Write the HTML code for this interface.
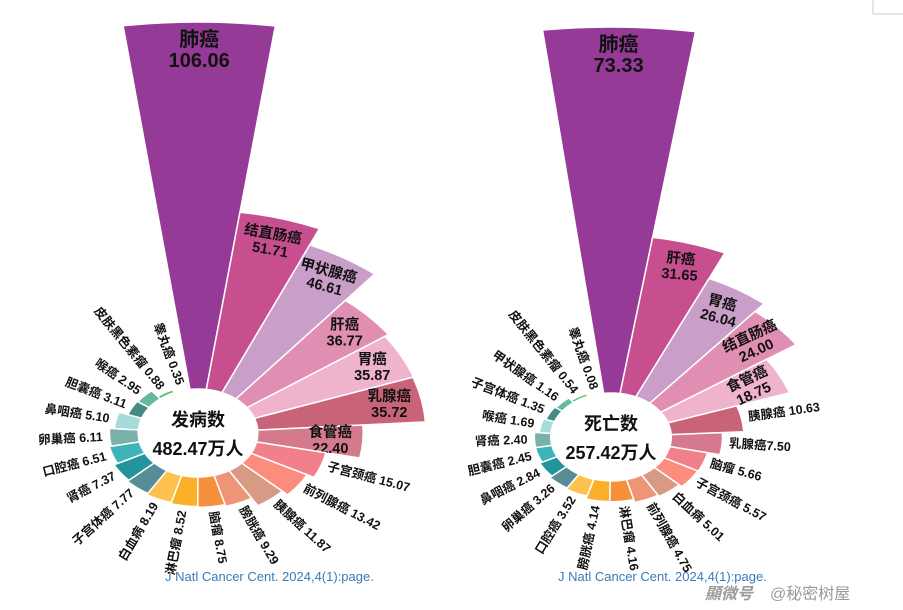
<!DOCTYPE html>
<html><head><meta charset="utf-8"><style>
body{margin:0;background:#fff;width:903px;height:610px;overflow:hidden;font-family:"Liberation Sans","Noto Sans CJK SC",sans-serif}
svg{position:absolute;left:0;top:0}
</style></head><body>
<svg id="chart" width="903" height="610">
<line x1="873" y1="0" x2="873" y2="14" stroke="#ccc"/>
<line x1="873" y1="14" x2="903" y2="14" stroke="#ccc"/>
<text x="165" y="581" font-size="13" fill="#3a7ab8">J Natl Cancer Cent. 2024,4(1):page.</text>
<text x="558" y="581" font-size="13" fill="#3a7ab8">J Natl Cancer Cent. 2024,4(1):page.</text>
<text x="705" y="599" font-size="16" fill="#9a9a9a" font-weight="bold" font-style="italic">顯微号</text>
<text x="770" y="599" font-size="16" fill="#9a9a9a">@秘密树屋</text>
</svg>
<script>
const incNames=["肺癌","结直肠癌","甲状腺癌","肝癌","胃癌","乳腺癌","食管癌","子宫颈癌","前列腺癌","胰腺癌","膀胱癌","脑瘤","淋巴瘤","白血病","子宫体癌","肾癌","口腔癌","卵巢癌","鼻咽癌","胆囊癌","喉癌","皮肤黑色素瘤","睾丸癌"];
const incValues=[106.06,51.71,46.61,36.77,35.87,35.72,22.40,15.07,13.42,11.87,9.29,8.75,8.52,8.19,7.77,7.37,6.51,6.11,5.10,3.11,2.95,0.88,0.35];
const deathNames=["肺癌","肝癌","胃癌","结直肠癌","食管癌","胰腺癌","乳腺癌","脑瘤","子宫颈癌","白血病","前列腺癌","淋巴瘤","膀胱癌","口腔癌","卵巢癌","鼻咽癌","胆囊癌","肾癌","喉癌","子宫体癌","甲状腺癌","皮肤黑色素瘤","睾丸癌"];
const deathValues=[73.33,31.65,26.04,24.00,18.75,10.63,7.50,5.66,5.57,5.01,4.75,4.16,4.14,3.52,3.26,2.84,2.45,2.40,1.69,1.35,1.16,0.54,0.08];
const palette=["#953a97","#c84f8f","#c99ec8","#e08fb2","#f0b3cd","#c96478","#d47a8c","#f2808a","#fb8c7e","#d99a84","#ef9577","#f5913a","#fbaf2b","#fdc24e","#578d96","#24949c","#3cb4b8","#79b1ab","#a6dbdc","#478a85","#66b99a","#4cc36a","#a8e0b0"];
const NS="http://www.w3.org/2000/svg";
const svg=document.getElementById('chart');
function mk(tag,attrs,parent){const e=document.createElementNS(NS,tag);for(const k in attrs)e.setAttribute(k,attrs[k]);(parent||svg).appendChild(e);return e;}
function rose(cfg){
  const {names,values,cx,cy,r0,rMax,start,inside,rots,title,total,prefix,sx,sep}=cfg;
  const pt=(r,a)=>{const t=a*Math.PI/180;return [cx+sx*r*Math.sin(t),cy-r*Math.cos(t)];};
  const maxV=Math.max(...values);
  const rScale=v=>r0+(rMax-r0)*v/maxV;
  const step=360/values.length;
  const g=mk('g',{});
  
  
  values.forEach((v,i)=>{
    const a0=start+i*step,a1=a0+step,r=rScale(v);
    const p1=pt(r0,a0),p2=pt(r,a0),p3=pt(r,a1),p4=pt(r0,a1);
    const p=mk('path',{d:`M${p1}L${p2}A${r*sx},${r} 0 0 1 ${p3}L${p4}A${r0*sx},${r0} 0 0 0 ${p1}Z`,fill:palette[i],stroke:'#fff','stroke-width':1.5},g);
    
    
    const mid=a0+step/2;
    if(i<inside){
      const big=i===0;
      const c=pt(big?r-28:r-24,mid);
      const t=mk('text',{transform:`translate(${c[0]},${c[1]}) rotate(${rots[i]})`,'text-anchor':'middle','font-weight':'bold','font-size':big?20:14.5,fill:'#111'},g);
      
      
      const s1=mk('tspan',{x:0,y:big?-4:-3},t);s1.textContent=names[i];
      const s2=mk('tspan',{x:0,y:big?17:13},t);s2.textContent=v.toFixed(2);
    }else{
      const c=pt(r+5,mid);
      const dx=c[0]-cx,dy=c[1]-cy;
      const vis=Math.atan2(dx,-dy)*180/Math.PI;
      const right=dx>=0;
      const rot=right?vis-90:vis+90;
      const t=mk('text',{transform:`translate(${c[0]},${c[1]}) rotate(${rot})`,'text-anchor':right?'start':'end','dominant-baseline':'middle','font-size':12.5,'font-weight':'bold',fill:'#111','xml:space':'preserve'},g);
      
      
      t.textContent=names[i]+(sep[i]!==undefined?sep[i]:' ')+v.toFixed(2);
    }
  });
  const c=mk('ellipse',{cx,cy,rx:(r0-1)*sx,ry:r0-1,fill:'#fff'},g);
  
  
  const t1=mk('text',{x:cx,y:cy-7,'text-anchor':'middle','font-size':18,'font-weight':'bold',fill:'#111'},g);
  
  
  t1.textContent=title;
  const t2=mk('text',{x:cx,y:cy+22,'text-anchor':'middle','font-size':18,'font-weight':'bold',fill:'#111'},g);
  
  
  t2.textContent=total;
}
rose({names:incNames,values:incValues,cx:198,cy:433,r0:44,rMax:411,start:-7.7,sx:1.36,inside:7,rots:[0,10,15,0,0,0,0],sep:{},title:'发病数',total:'482.47万人',prefix:'incidence'});
rose({names:deathNames,values:deathValues,cx:611,cy:437,r0:44,rMax:410,start:-7,sx:1.37,inside:5,rots:[0,5,15,-25,-25],sep:{6:'',7:'  '},title:'死亡数',total:'257.42万人',prefix:'death'});
</script>
</body></html>
